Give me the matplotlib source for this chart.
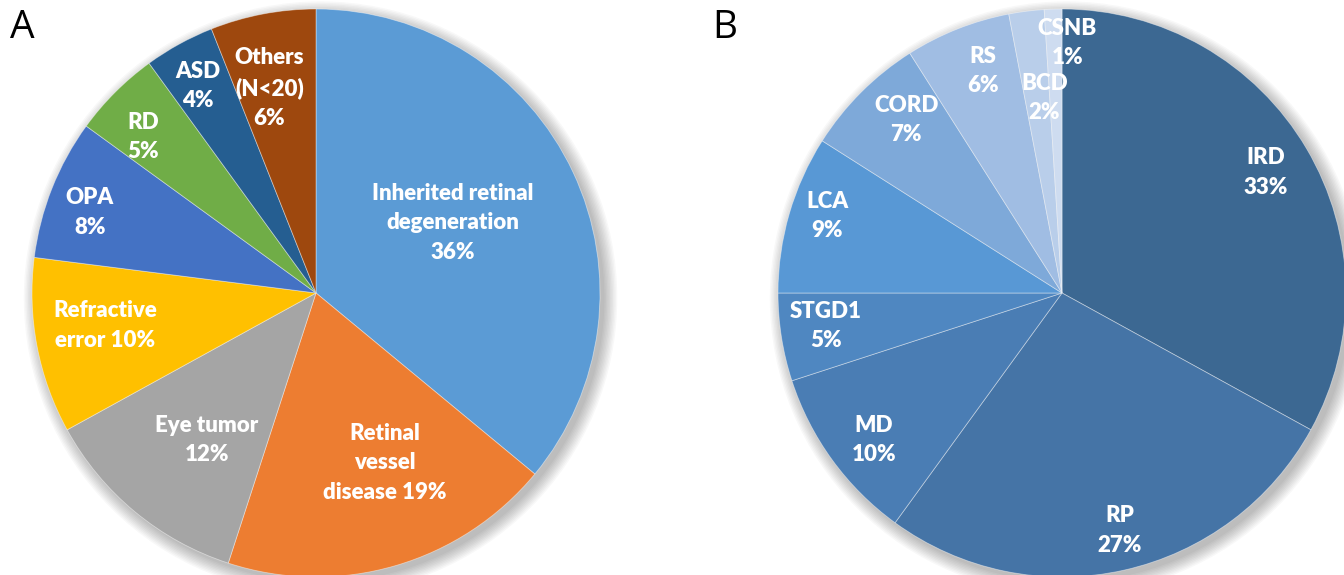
import numpy as np
import matplotlib
matplotlib.use("Agg")
import matplotlib.pyplot as plt
from matplotlib.patches import Circle


# DATA
a_labels = ["Inherited retinal\ndegeneration", "Retinal\nvessel\ndisease", "Eye tumor",
            "Refractive\nerror", "OPA", "RD", "ASD", "Others\n(N<20)"]
a_values = [36, 19, 12, 10, 8, 5, 4, 6]
a_colors = ["#5B9BD5", "#ED7D31", "#A5A5A5", "#FFC000", "#4472C4", "#70AD47", "#255E91", "#9E480E"]

b_labels = ["IRD", "RP", "MD", "STGD1", "LCA", "CORD", "RS", "BCD", "CSNB"]
b_values = [33, 27, 10, 5, 9, 7, 6, 2, 1]
b_colors = ["#3C6892", "#4574A6", "#4A7DB4", "#4F87C1", "#5898D5", "#7EA9D9",
            "#A0BDE3", "#B9CEEA", "#CEDCF0"]


# LABEL LAYOUT (radius fraction, angle nudge in degrees, separator before %)
a_rad = [0.54, 0.645, 0.645, 0.75, 0.845, 0.82, 0.84, 0.74]
a_nudge = [2, 6, 3, -2, 2, 3, 1, 2]
a_sep = ["\n", " ", "\n", " ", "\n", "\n", "\n", "\n"]

b_rad = [0.835, 0.86, 0.84, 0.84, 0.87, 0.82, 0.83, 0.69, 0.88]
b_nudge = [0, 1, 2, -1, -2, -3, -2, -2, -3]
b_sep = ["\n"] * len(b_labels)

FONT = "Lato"
W, H = 1344, 575
R = 284


def draw_pie(cx, cy, values, colors, labels, rad, nudge, sep):
    ax = fig.add_axes([(cx - R) / W, (H - cy - R) / H, 2 * R / W, 2 * R / H])

    # soft shadow, mostly bottom/right
    for i in range(10):
        s = Circle((0.016, -0.018), 1.0 + 0.005 * i, color="black",
                   alpha=0.028, lw=0, zorder=0, clip_on=False)
        ax.add_patch(s)

    wedges, _ = ax.pie(values, colors=colors, startangle=90, counterclock=False,
                       radius=1.0, wedgeprops=dict(edgecolor=(1, 1, 1, 0.45), linewidth=0.6))
    for w in wedges:
        w.set_zorder(1)
        w.set_clip_on(False)

    ax.set_xlim(-1, 1)
    ax.set_ylim(-1, 1)
    ax.set_aspect("equal")
    ax.axis("off")

    for w, lab, v, r, dn, sp in zip(wedges, labels, values, rad, nudge, sep):
        ang = np.deg2rad((w.theta1 + w.theta2) / 2 + dn)
        ax.text(r * np.cos(ang), r * np.sin(ang), f"{lab}{sp}{v}%",
                ha="center", va="center", color="white", fontsize=16,
                fontweight="heavy", family=FONT, linespacing=1.5, zorder=3)
    return ax


fig = plt.figure(figsize=(W / 100, H / 100), dpi=100)
fig.patch.set_facecolor("white")

draw_pie(316, 293, a_values, a_colors, a_labels, a_rad, a_nudge, a_sep)
draw_pie(1062, 293, b_values, b_colors, b_labels, b_rad, b_nudge, b_sep)

fig.text(10 / W, 1 - 28 / H, "A", fontsize=28, family="Open Sans", va="center", ha="left")
fig.text(712 / W, 1 - 28 / H, "B", fontsize=28, family="Open Sans", va="center", ha="left")

fig.savefig("out.png", dpi=100)
